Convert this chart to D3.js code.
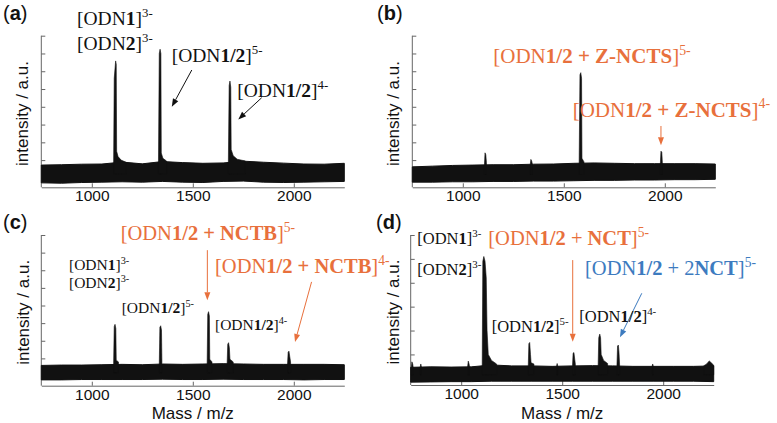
<!DOCTYPE html>
<html>
<head>
<meta charset="utf-8">
<script src="https://cdn.jsdelivr.net/npm/d3@7"></script>
<style>
  body { margin: 0; background: #fff; }
  svg { display: block; }
  text { white-space: pre; }
</style>
</head>
<body>
<div id="container"></div>
<script>
const width = 777;
const height = 423;
const sans = "Liberation Sans, Arial, Helvetica, sans-serif";
const serif = "Liberation Serif, Times New Roman, serif";
const orange = "#e8703c";
const blue = "#3d7bbf";
const axisColor = "#666";

// x axis (m/z)
const massDomain = [750, 2250];
const massTicks = [1000, 1500, 2000];
const intensityTicks8 = [0, 1, 2, 3, 4, 5, 6, 7, 8];
const intensityTicks6 = [0, 1, 2, 3, 4, 5, 6];

// noise band envelope, read every 100 m/z
const bandMass = [750, 850, 950, 1050, 1150, 1250, 1350, 1450, 1550, 1650, 1750, 1850, 1950, 2050, 2150, 2250];
const bandTopA = [0.72, 0.74, 0.77, 0.78, 0.89, 0.79, 0.92, 0.86, 0.82, 0.84, 0.94, 0.88, 0.83, 0.78, 0.77, 0.82];
const bandBotA = [-0.28, -0.30, -0.26, -0.24, -0.22, -0.24, -0.20, -0.24, -0.26, -0.20, -0.18, -0.24, -0.26, -0.24, -0.22, -0.20];
const bandTopB = [0.62, 0.66, 0.70, 0.72, 0.74, 0.74, 0.77, 0.78, 0.82, 0.84, 0.82, 0.80, 0.80, 0.80, 0.80, 0.78];
const bandBotB = [-0.24, -0.24, -0.22, -0.22, -0.20, -0.20, -0.18, -0.18, -0.16, -0.14, -0.14, -0.12, -0.12, -0.10, -0.10, -0.08];
const bandTopC = [0.60, 0.62, 0.62, 0.64, 0.66, 0.64, 0.68, 0.66, 0.68, 0.70, 0.68, 0.66, 0.66, 0.66, 0.66, 0.64];
const bandBotC = [-0.22, -0.22, -0.20, -0.20, -0.20, -0.20, -0.18, -0.20, -0.20, -0.18, -0.20, -0.20, -0.20, -0.22, -0.20, -0.20];
const bandTopD = [0.46, 0.48, 0.47, 0.48, 0.56, 0.52, 0.52, 0.50, 0.52, 0.53, 0.52, 0.50, 0.50, 0.50, 0.50, 0.52];
const bandBotD = [-0.16, -0.15, -0.14, -0.14, -0.12, -0.12, -0.12, -0.12, -0.12, -0.12, -0.12, -0.12, -0.12, -0.12, -0.12, -0.14];

// peak outlines [m/z, intensity]
const peaksA = [
  [[1108, 0.8], [1111, 5.6], [1118, 6.58], [1121, 6.4], [1123, 1.5], [1130, 1.2], [1145, 1.0], [1170, 0.88]],
  [[1330, 0.85], [1334, 7.0], [1338, 7.24], [1342, 7.0], [1344, 1.4], [1352, 1.1], [1370, 0.95]],
  [[1676, 0.85], [1680, 5.2], [1684, 5.45], [1688, 5.1], [1690, 1.6], [1700, 1.25], [1720, 1.05], [1760, 0.95]]
];
const peaksB = [
  [[1107, 0.7], [1110, 1.41], [1114, 1.3], [1117, 0.85]],
  [[1334, 0.75], [1337, 1.04], [1341, 0.95], [1344, 0.8]],
  [[1576, 0.8], [1580, 5.8], [1584, 5.92], [1588, 5.6], [1590, 1.1], [1600, 0.9]],
  [[1978, 0.8], [1981, 1.5], [1985, 1.45], [1988, 0.85]]
];
const peaksC = [
  [[1108, 0.66], [1111, 2.8], [1115, 2.93], [1119, 2.7], [1121, 0.9], [1132, 0.8]],
  [[1334, 0.66], [1337, 2.75], [1341, 2.85], [1345, 2.6], [1347, 0.85]],
  [[1571, 0.68], [1574, 3.5], [1578, 3.65], [1582, 3.4], [1584, 0.95], [1595, 0.8]],
  [[1670, 0.7], [1673, 1.8], [1677, 1.89], [1681, 1.6], [1684, 0.95], [1700, 0.8]],
  [[1969, 0.68], [1972, 1.35], [1976, 1.41], [1980, 1.1], [1984, 0.8]]
];
const peaksD = [
  [[753, 0.45], [756, 0.69], [760, 0.6], [762, 0.47]],
  [[797, 0.47], [800, 0.6], [803, 0.48]],
  [[1032, 0.5], [1035, 0.72], [1039, 0.6], [1041, 0.5]],
  [[1104, 0.5], [1107, 4.9], [1112, 5.1], [1118, 4.9], [1124, 4.2], [1128, 2.0], [1134, 1.0], [1150, 0.75], [1175, 0.6]],
  [[1332, 0.5], [1335, 1.45], [1339, 1.5], [1343, 1.0], [1346, 0.65], [1360, 0.6]],
  [[1472, 0.5], [1475, 0.62], [1478, 0.5]],
  [[1551, 0.52], [1554, 1.05], [1558, 1.08], [1562, 0.8], [1565, 0.6]],
  [[1678, 0.55], [1681, 1.7], [1686, 1.85], [1690, 1.7], [1693, 1.0], [1705, 0.75], [1725, 0.62]],
  [[1771, 0.55], [1774, 1.35], [1778, 1.39], [1781, 1.1], [1784, 0.6]],
  [[1945, 0.5], [1948, 0.6], [1951, 0.5]],
  [[2200, 0.52], [2215, 0.6], [2228, 0.73], [2238, 0.65], [2250, 0.55]]
];

// annotation text: *bold*, ^superscript
const labelsA = [
  {t: "[ODN*1*]^3-", x: 77, y: 25, size: 19.5, c: "#111"},
  {t: "[ODN*2*]^3-", x: 77, y: 50, size: 19.5, c: "#111"},
  {t: "[ODN*1/2*]^5-", x: 171.7, y: 61.5, size: 19.5, c: "#111"},
  {t: "[ODN*1/2*]^4-", x: 237.3, y: 96.7, size: 19.5, c: "#111"}
];
const labelsB = [
  {t: "[ODN*1/2 + Z-NCTS*]^5-", x: 493.3, y: 63.3, size: 21, c: orange},
  {t: "[ODN*1/2 + Z-NCTS*]^4-", x: 572.7, y: 116.7, size: 21, c: orange}
];
const labelsC = [
  {t: "[ODN*1/2 + NCTB*]^5-", x: 120.7, y: 240, size: 20.5, c: orange},
  {t: "[ODN*1/2 + NCTB*]^4-", x: 215, y: 273.3, size: 20.5, c: orange},
  {t: "[ODN*1*]^3-", x: 69, y: 270, size: 15.5, c: "#111"},
  {t: "[ODN*2*]^3-", x: 69, y: 288.3, size: 15.5, c: "#111"},
  {t: "[ODN*1/2*]^5-", x: 121.7, y: 313.3, size: 15.5, c: "#111"},
  {t: "[ODN*1/2*]^4-", x: 215, y: 330, size: 15.5, c: "#111"}
];
const labelsD = [
  {t: "[ODN*1*]^3-", x: 417.3, y: 244, size: 16.5, c: "#111"},
  {t: "[ODN*2*]^3-", x: 417.3, y: 275, size: 16.5, c: "#111"},
  {t: "[ODN*1/2*]^5-", x: 491.7, y: 331.7, size: 16.5, c: "#111"},
  {t: "[ODN*1/2*]^4-", x: 579.3, y: 321.7, size: 16.5, c: "#111"},
  {t: "[ODN*1/2* + *NCT*]^5-", x: 488.3, y: 245, size: 20.5, c: orange},
  {t: "[ODN*1/2* + 2*NCT*]^5-", x: 585, y: 275, size: 20.5, c: blue}
];

// arrows in data space
const arrowsA = [
  {from: [1495, 6.07], to: [1396, 4.0], c: "#111"},
  {from: [1841, 4.51], to: [1725, 3.29], c: "#111"}
];
const arrowsB = [{from: [1981, 2.92], to: [1981, 1.83], c: orange}];
const arrowsC = [
  {from: [1572, 7.14], to: [1572, 4.3], c: orange},
  {from: [2088, 5.34], to: [2006, 1.93], c: orange}
];
const arrowsD = [
  {from: [1552, 4.95], to: [1552, 1.53], c: orange},
  {from: [1894, 3.56], to: [1786, 1.72], c: blue}
];

const panels = [
  {name: "a", left: 41.3, right: 344.3, top: 35.7, bottom: 187.3, yDomain: [-0.53, 8], ticks: intensityTicks8,
   bandTop: bandTopA, bandBot: bandBotA, peaks: peaksA, labels: labelsA, arrows: arrowsA, tagX: 3, tagY: 20, yLabelX: 22, xLabel: false},
  {name: "b", left: 412.3, right: 715.3, top: 35.7, bottom: 187.3, yDomain: [-0.53, 8], ticks: intensityTicks8,
   bandTop: bandTopB, bandBot: bandBotB, peaks: peaksB, labels: labelsB, arrows: arrowsB, tagX: 377, tagY: 20, yLabelX: 393, xLabel: false},
  {name: "c", left: 41.3, right: 344.3, top: 235, bottom: 385.7, yDomain: [-0.55, 8], ticks: intensityTicks8,
   bandTop: bandTopC, bandBot: bandBotC, peaks: peaksC, labels: labelsC, arrows: arrowsC, tagX: 3, tagY: 229, yLabelX: 23, xLabel: true},
  {name: "d", left: 410.7, right: 713.7, top: 235, bottom: 385, yDomain: [-0.28, 6], ticks: intensityTicks6,
   bandTop: bandTopD, bandBot: bandBotD, peaks: peaksD, labels: labelsD, arrows: arrowsD, tagX: 376, tagY: 229, yLabelX: 393, xLabel: true}
];

const svg = d3.select("#container")
  .append("svg")
  .attr("width", width)
  .attr("height", height);

function richText(g, d) {
  const text = g.append("text")
    .attr("x", d.x)
    .attr("y", d.y)
    .attr("font-family", serif)
    .attr("font-size", d.size)
    .attr("fill", d.c);
  const [main, sup] = d.t.split("^");
  main.split("*").forEach((part, i) => {
    if (!part) return;
    text.append("tspan").attr("font-weight", i % 2 ? "bold" : "normal").text(part);
  });
  if (sup) {
    text.append("tspan")
      .attr("font-size", d.size * 0.66)
      .attr("dy", -d.size * 0.4)
      .text(sup);
  }
}

function drawArrow(g, x1, y1, x2, y2, color) {
  const a = Math.atan2(y2 - y1, x2 - x1);
  const len = 8, half = 3;
  const bx = x2 - len * Math.cos(a), by = y2 - len * Math.sin(a);
  g.append("line")
    .attr("x1", x1).attr("y1", y1)
    .attr("x2", bx).attr("y2", by)
    .attr("stroke", color)
    .attr("stroke-width", 1);
  g.append("polygon")
    .attr("points", [
      [x2, y2],
      [bx + half * Math.sin(a), by - half * Math.cos(a)],
      [bx - half * Math.sin(a), by + half * Math.cos(a)]
    ].map(p => p.join(",")).join(" "))
    .attr("fill", color);
}

panels.forEach(p => {
  const g = svg.append("g");
  const x = d3.scaleLinear().domain(massDomain).range([p.left, p.right]);
  const y = d3.scaleLinear().domain(p.yDomain).range([p.bottom, p.top]);

  // y axis, inward ticks, no labels
  const yAxis = g.append("g")
    .attr("transform", `translate(${p.left},0)`)
    .call(d3.axisLeft(y).tickValues(p.ticks).tickSize(-4).tickSizeOuter(0).tickFormat(""));
  yAxis.select(".domain").attr("d", `M0,${y(p.ticks[p.ticks.length - 1])}V${p.bottom}`);

  // x axis
  const xAxis = g.append("g")
    .attr("transform", `translate(0,${p.bottom})`)
    .call(d3.axisBottom(x).tickValues(massTicks).tickSize(-4).tickSizeOuter(0)
      .tickPadding(3).tickFormat(d3.format("d")));
  xAxis.selectAll("text")
    .attr("font-family", sans)
    .attr("font-size", 15.5)
    .attr("fill", "#111");

  [yAxis, xAxis].forEach(ax => {
    ax.selectAll(".domain, .tick line").attr("stroke", axisColor);
  });

  // noise band
  const band = bandMass.map((m, i) => [m, p.bandTop[i], p.bandBot[i]]);
  g.append("path")
    .datum(band)
    .attr("d", d3.area().x(d => x(d[0])).y0(d => y(d[2])).y1(d => y(d[1])))
    .attr("fill", "#111")
    .attr("stroke", "#111")
    .attr("stroke-width", 1);

  // peaks
  const baseVal = (p.bandTop[0] + p.bandBot[0]) / 2;
  g.selectAll("path.peak")
    .data(p.peaks)
    .join("path")
    .attr("class", "peak")
    .attr("d", d3.area().x(d => x(d[0])).y0(y(baseVal)).y1(d => y(d[1])))
    .attr("fill", "#111")
    .attr("stroke", "#111")
    .attr("stroke-width", 0.6);

  // axis titles
  g.append("text")
    .attr("transform", `translate(${p.yLabelX},${(p.top + p.bottom) / 2 + 2}) rotate(-90)`)
    .attr("text-anchor", "middle")
    .attr("dominant-baseline", "central")
    .attr("font-family", sans)
    .attr("font-size", 17)
    .attr("fill", "#111")
    .text("intensity / a.u.");

  if (p.xLabel) {
    g.append("text")
      .attr("x", (p.left + p.right) / 2)
      .attr("y", 419)
      .attr("text-anchor", "middle")
      .attr("font-family", sans)
      .attr("font-size", 17)
      .attr("fill", "#111")
      .text("Mass / m/z");
  }

  // panel tag
  const tag = g.append("text")
    .attr("x", p.tagX)
    .attr("y", p.tagY)
    .attr("font-family", sans)
    .attr("font-size", 20)
    .attr("fill", "#111");
  tag.append("tspan").text("(");
  tag.append("tspan").attr("font-weight", "bold").text(p.name);
  tag.append("tspan").text(")");

  p.arrows.forEach(a => drawArrow(g, x(a.from[0]), y(a.from[1]), x(a.to[0]), y(a.to[1]), a.c));
  p.labels.forEach(d => richText(g, d));
});
</script>
</body>
</html>
